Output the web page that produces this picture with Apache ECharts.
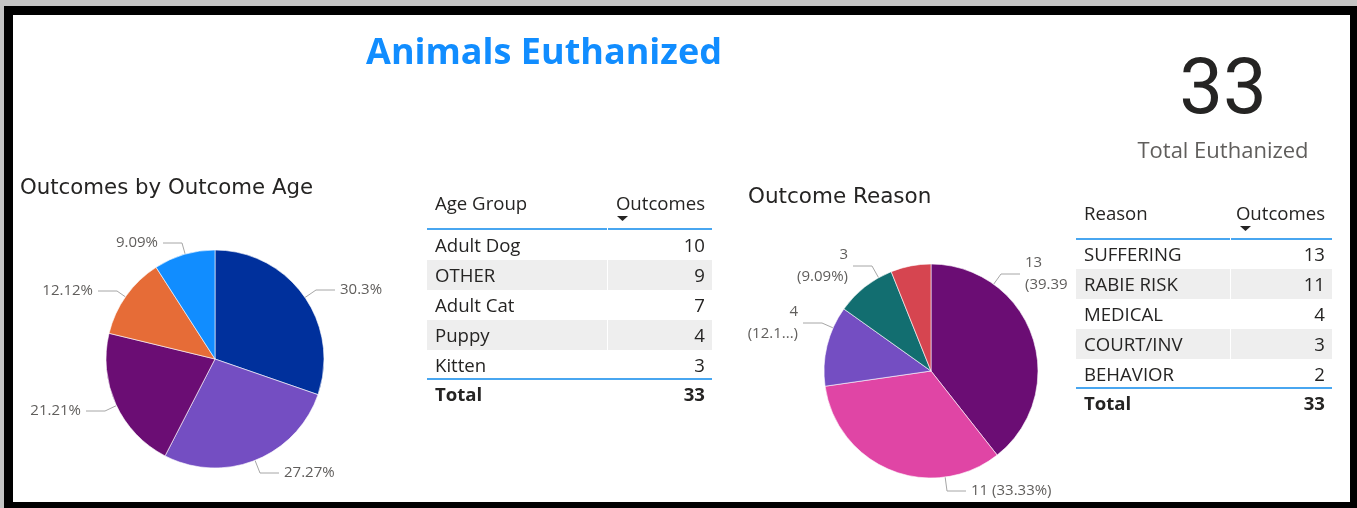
<!DOCTYPE html>
<html><head><meta charset="utf-8">
<script src="https://cdn.jsdelivr.net/npm/echarts@6/dist/echarts.min.js"></script>
<style>html,body{margin:0;padding:0;background:#c4c4c4;overflow:hidden}#c{width:1357px;height:508px;}</style>
</head><body><div id="c"></div>
<script>
// ---- data ----
const ageGroups = ['Adult Dog', 'OTHER', 'Adult Cat', 'Puppy', 'Kitten'];
const ageOutcomes = [10, 9, 7, 4, 3];
const reasons = ['SUFFERING', 'RABIE RISK', 'MEDICAL', 'COURT/INV', 'BEHAVIOR'];
const reasonOutcomes = [13, 11, 4, 3, 2];
const totalEuthanized = 33;

// ---- styles / layout ----
const ageColors = ['#00309C', '#744EC2', '#6B0D74', '#E66C37', '#118DFF'];
const reasonColors = ['#6B0D74', '#E045A5', '#744EC2', '#126E70', '#D64550'];
const FONT = "'Open Sans', 'Noto Sans', sans-serif";
const TFONT = "'DejaVu Sans', sans-serif";
const txtCol = '#252423';
const lblCol = '#605E5C';
const agePie = {center: [215, 359], r: 109};
const reasonPie = {center: [931, 371], r: 107};
// outside-label placement (side x, middle y, alignment) as in the report
const ageLabelPlace = [[340, 290, 'left'], [284, 473, 'left'], [81, 411, 'right'], [93, 291, 'right'], [158, 243, 'right']];
const reasonLabelPlace = [[1025, 274, 'left'], [971, 491, 'left'], [798, 323, 'right'], [848, 266, 'right'], null];

const sum = a => a.reduce((s, v) => s + v, 0);
const pct = (v, t) => String(parseFloat((v / t * 100).toFixed(2)));

const ageTotal = sum(ageOutcomes);
const reasonTotal = sum(reasonOutcomes);

// labels for the reason pie (as shown in the report: wrapped, one truncated, smallest hidden)
function reasonLabel(i) {
  const v = reasonOutcomes[i];
  const p = pct(v, reasonTotal);
  if (i === 1) return v + ' (' + p + '%)';
  if (i === 2) return v + '\n(' + p.slice(0, 4) + '...)';
  return v + '\n(' + p + '%)';
}

function layoutFor(pie, places) {
  return function (params) {
    const pl = places[params.dataIndex];
    if (!pl) return {};
    const [x, y, align] = pl;
    const s = align === 'left' ? -1 : 1;
    const end = [x + s * 5, y];
    const bend = [x + s * 24, y];
    const dx = bend[0] - pie.center[0], dy = bend[1] - pie.center[1];
    const d = Math.sqrt(dx * dx + dy * dy);
    const anchor = [pie.center[0] + dx / d * pie.r, pie.center[1] + dy / d * pie.r];
    return {x: x, y: y, align: align, verticalAlign: 'middle', labelLinePoints: [anchor, bend, end]};
  };
}

const chart = echarts.init(document.getElementById('c'), null, {renderer: 'canvas'});

// ---- tables built from the arrays ----
function buildTable(x0, x1, xDiv, headY, lineY, rowY0, names, values, total, h1) {
  const els = [];
  const rowH = 30;
  const T = (text, x, y, align, bold) => ({type: 'text', z: 5,
    style: {text: text, x: x, y: y + 2, font: (bold ? 'bold ' : '') + '18.6px ' + FONT, fill: txtCol, verticalAlign: 'middle', textAlign: align}});
  values.forEach((v, i) => {
    const cy = rowY0 + i * rowH;
    if (i % 2 === 1) {
      els.push({type: 'rect', shape: {x: x0, y: cy - 15, width: xDiv - x0, height: 30}, style: {fill: '#EEEEEE'}, z: 1});
      els.push({type: 'rect', shape: {x: xDiv + 1, y: cy - 15, width: x1 - xDiv - 1, height: 30}, style: {fill: '#EEEEEE'}, z: 1});
    }
    els.push(T(names[i], x0 + 8, cy, 'left'));
    els.push(T(String(v), x1 - 7, cy, 'right'));
  });
  els.push(T(h1, x0 + 8, headY, 'left'));
  els.push(T('Outcomes', x1 - 7, headY, 'right'));
  els.push({type: 'polygon', shape: {points: [[xDiv + 10, headY + 13], [xDiv + 21, headY + 13], [xDiv + 15.5, headY + 18]]}, style: {fill: '#252423'}, z: 5});
  els.push({type: 'rect', shape: {x: x0, y: lineY, width: xDiv - x0, height: 2}, style: {fill: '#48A6F0'}, z: 5});
  els.push({type: 'rect', shape: {x: xDiv + 1, y: lineY, width: x1 - xDiv - 1, height: 2}, style: {fill: '#48A6F0'}, z: 5});
  const tLine = rowY0 + values.length * rowH - 17;
  els.push({type: 'rect', shape: {x: x0, y: tLine, width: x1 - x0, height: 2}, style: {fill: '#48A6F0'}, z: 5});
  const ty = rowY0 + values.length * rowH - 1;
  els.push(T('Total', x0 + 8, ty, 'left', true));
  els.push(T(String(total), x1 - 7, ty, 'right', true));
  return els;
}

const graphics = [
  {type: 'rect', shape: {x: 4, y: 6, width: 1353, height: 502}, style: {fill: '#000'}, z: -10, silent: true},
  {type: 'rect', shape: {x: 13, y: 15, width: 1337, height: 487}, style: {fill: '#fff'}, z: -9, silent: true},
  {type: 'text', style: {text: 'Animals Euthanized', x: 544, y: 54, font: 'bold 36px ' + FONT, fill: '#118DFF', textAlign: 'center', verticalAlign: 'middle'}},
  {type: 'text', style: {text: 'Outcomes by Outcome Age', x: 20, y: 188, font: '21.3px ' + TFONT, fill: txtCol, textAlign: 'left', verticalAlign: 'middle'}},
  {type: 'text', style: {text: 'Outcome Reason', x: 748, y: 197, font: '21.5px ' + TFONT, fill: txtCol, textAlign: 'left', verticalAlign: 'middle'}},
  {type: 'text', style: {text: String(totalEuthanized), x: 1223, y: 93, font: '78px Roboto, sans-serif', fill: txtCol, textAlign: 'center', verticalAlign: 'middle'}},
  {type: 'text', style: {text: 'Total Euthanized', x: 1223, y: 152, font: '22px ' + FONT, fill: lblCol, textAlign: 'center', verticalAlign: 'middle'}},
  {type: 'rect', shape: {x: 1067, y: 200, width: 272, height: 220}, style: {fill: '#fff'}, z: 0},
  ...buildTable(427, 712, 607, 203, 228, 245, ageGroups, ageOutcomes, ageTotal, 'Age Group'),
  ...buildTable(1076, 1332, 1230, 213, 238, 254, reasons, reasonOutcomes, reasonTotal, 'Reason')
];

const labelBase = {color: lblCol, fontSize: 15, fontFamily: FONT};
const lineBase = {lineStyle: {color: '#A6A6A6', width: 1}};

chart.setOption({
  animation: false,
  graphic: {elements: graphics},
  series: [
    {
      type: 'pie', center: agePie.center, radius: agePie.r, startAngle: 90, clockwise: true,
      z: 2,
      itemStyle: {borderColor: '#fff', borderWidth: 0.6},
      label: Object.assign({}, labelBase, {formatter: p => pct(p.value, ageTotal) + '%'}),
      labelLine: Object.assign({length: 9, length2: 20}, lineBase),
      labelLayout: layoutFor(agePie, ageLabelPlace),
      data: ageGroups.map((n, i) => ({name: n, value: ageOutcomes[i], itemStyle: {color: ageColors[i]}}))
    },
    {
      type: 'pie', center: reasonPie.center, radius: reasonPie.r, startAngle: 90, clockwise: true,
      z: -1,
      itemStyle: {borderColor: '#fff', borderWidth: 0.6},
      label: Object.assign({}, labelBase, {formatter: p => reasonLabel(p.dataIndex), lineHeight: 22}),
      labelLine: Object.assign({length: 9, length2: 20}, lineBase),
      labelLayout: layoutFor(reasonPie, reasonLabelPlace),
      data: reasons.map((n, i) => ({name: n, value: reasonOutcomes[i], itemStyle: {color: reasonColors[i]},
        label: {show: i !== 4}, labelLine: {show: i !== 4}}))
    }
  ]
});
</script></body></html>
